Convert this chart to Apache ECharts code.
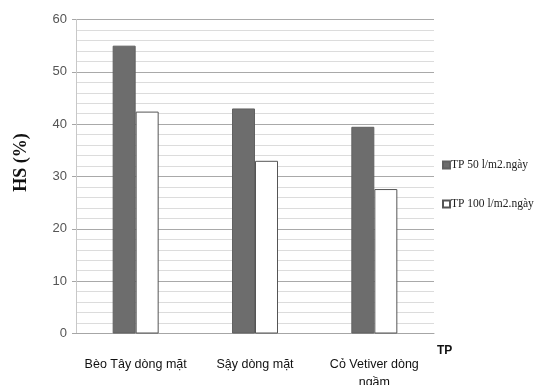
<!DOCTYPE html>
<html>
<head>
<meta charset="utf-8">
<script src="https://cdn.jsdelivr.net/npm/echarts@6/dist/echarts.min.js"></script>
<style>html,body{margin:0;padding:0;background:#fff;}#c{width:544px;height:385px;}</style>
</head>
<body>
<div id="c"></div>
<script>
var categories = ["Bèo Tây dòng mặt", "Sậy dòng mặt", "Cỏ Vetiver dòng ngầm"];
var seriesNames = ["TP 50 l/m2.ngày", "TP 100 l/m2.ngày"];
var tp50 = [55, 43, 39.5];
var tp100 = [42.4, 33, 27.6];
var yTicks = [0, 10, 20, 30, 40, 50, 60];

function wrapLabel(s) {
  if (s.length <= 17) return s;
  var i = s.lastIndexOf(' ');
  return s.slice(0, i) + '\n' + s.slice(i + 1);
}

var chart = echarts.init(document.getElementById('c'), null, {renderer: 'canvas'});
chart.setOption({
  animation: false,
  backgroundColor: '#ffffff',
  grid: {left: 76, right: 110, top: 19.5, bottom: 51.5, containLabel: false, outerBoundsMode: 'none'},
  legend: {
    orient: 'vertical',
    left: 437,
    top: 154,
    itemGap: 27,
    itemWidth: 7,
    itemHeight: 7,
    icon: 'rect',
    textStyle: {fontFamily: 'Liberation Serif', fontSize: 11.5, color: '#222', padding: [0,0,0,-4]},
    data: seriesNames
  },
  xAxis: {
    type: 'category',
    data: categories,
    name: 'TP',
    nameLocation: 'end',
    nameGap: 3,
    nameTextStyle: {fontFamily: 'Liberation Sans', fontWeight: 'bold', fontSize: 12, color: '#111', verticalAlign: 'top', padding: [11,0,0,0]},
    axisLine: {lineStyle: {color: '#a6a6a6', width: 1}},
    axisTick: {show: false},
    axisLabel: {fontFamily: 'Liberation Sans', fontSize: 12.5, color: '#111', margin: 22, lineHeight: 18, interval: 0, formatter: wrapLabel},
    splitLine: {show: false}
  },
  yAxis: {
    type: 'value',
    min: yTicks[0],
    max: yTicks[yTicks.length - 1],
    interval: 10,
    name: 'HS (%)',
    nameLocation: 'middle',
    nameGap: 46,
    nameRotate: 90,
    nameTextStyle: {fontFamily: 'Liberation Serif', fontWeight: 'bold', fontSize: 18, color: '#111', padding: [0,0,0,28]},
    axisLine: {show: true, lineStyle: {color: '#c8c8c8'}},
    axisTick: {show: true, length: 4, lineStyle: {color: '#a6a6a6'}},
    axisLabel: {fontFamily: 'Liberation Sans', fontSize: 13, color: '#555', margin: 9},
    splitLine: {lineStyle: {color: '#a9a9a9', width: 1}},
    minorTick: {show: false, splitNumber: 5},
    minorSplitLine: {show: true, lineStyle: {color: '#dcdcdc', width: 1}}
  },
  series: [
    {
      name: seriesNames[0],
      type: 'bar',
      data: tp50,
      barWidth: 23,
      barGap: '0%',
      itemStyle: {color: '#6d6d6d', borderColor: '#616161', borderWidth: 1}
    },
    {
      name: seriesNames[1],
      type: 'bar',
      data: tp100,
      barWidth: 23,
      barGap: '0%',
      itemStyle: {color: '#ffffff', borderColor: '#555555', borderWidth: 1}
    }
  ]
});
</script>
</body>
</html>
